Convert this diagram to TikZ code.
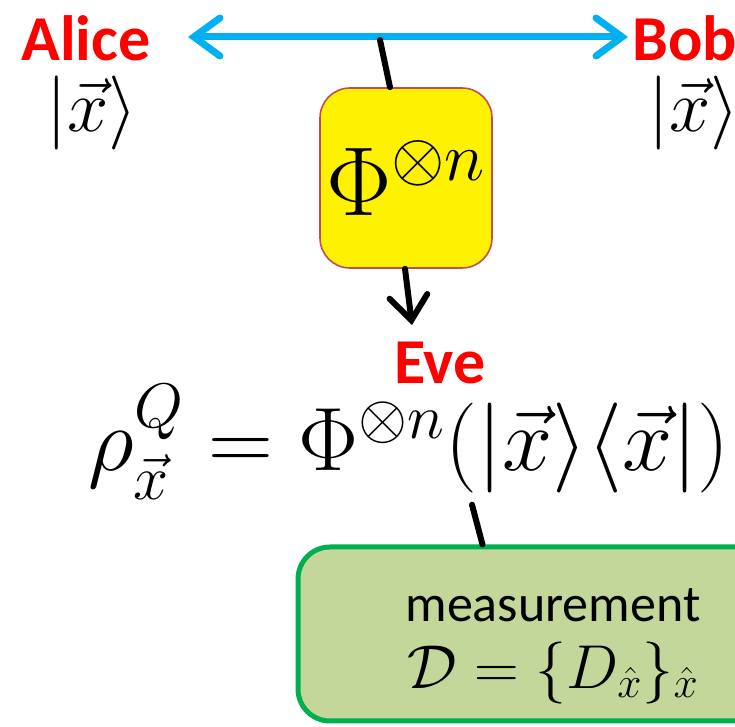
\RequirePackage{fix-cm}
\documentclass[tikz,border=0pt]{standalone}
\usepackage{amsmath,amssymb}
\usepackage{fontspec}
\newfontfamily\calib{Carlito}
\usetikzlibrary{arrows.meta,positioning,calc}
\usepackage{xcolor}
\definecolor{linkcol}{RGB}{0,176,240}
\definecolor{chanedge}{RGB}{192,80,77}
\definecolor{measedge}{RGB}{0,176,80}
\definecolor{measfill}{RGB}{196,215,155}

\begin{document}
\begin{tikzpicture}[x=0.5pt,y=-0.5pt,
  party/.style={text=red,font=\calib\bfseries\fontsize{32}{32}\selectfont,inner sep=0pt},
  ket/.style={font=\fontsize{37}{37}\selectfont,inner sep=0pt},
  bigmath/.style={font=\fontsize{45}{45}\selectfont,inner sep=0pt},
  wire/.style={line width=3pt,line cap=round},
  chanbox/.style={draw=chanedge,fill=yellow,line width=0.8pt,rounded corners=15pt,
    minimum width=86pt,minimum height=90pt,inner sep=0pt,font=\fontsize{49}{49}\selectfont},
  measbox/.style={draw=measedge,fill=measfill,line width=2.5pt,rounded corners=16pt,
    minimum width=251pt,minimum height=87pt,inner sep=0pt}]
  \useasboundingbox (0,0) rectangle (735,727);
  \clip (0,0) rectangle (735,727);
  \node[party] (alice) at (86,38){Alice};
  \node[party,anchor=west] (bob) at (632,38){Bob};
  \node[ket] (ketA) at (92,113){$|\vec{x}\rangle$};
  \node[ket] (ketB) at (694,113){$|\vec{x}\rangle$};
  \node[chanbox] (chan) at (406,178){$\Phi^{\otimes n}$};
  \node[party] (eve) at (440,363){Eve};
  \node[bigmath] (state) at (409,442)
    {$\rho^{Q}_{\vec{x}}=\Phi^{\otimes n}(|\vec{x}\rangle\langle\vec{x}|)$};
  \node[measbox] (meas) at (549,634){};
  \node[align=center,inner sep=0pt] (measlbl) at ($(meas.center)+(4,12)$)
    {{\calib\fontsize{26}{26}\selectfont measurement}\\[9pt]
     {\fontsize{31}{31}\selectfont$\mathcal{D}=\{D_{\hat{x}}\}_{\hat{x}}$}};
  % classical link and Eve's taps
  \coordinate (linkL) at (188,37);
  \coordinate (linkR) at (628,37);
  \coordinate (tap) at (380,40);
  \coordinate (evein) at (412,325);
  \draw[linkcol,line width=3.5pt,line cap=round,
    {Straight Barb[length=13pt,width=19pt,line cap=round]}-{Straight Barb[length=13pt,width=19pt,line cap=round]}]
    (linkL) -- (linkR);
  \draw[wire] (tap) -- ($(chan.north)+(-16,0)$);
  \draw[wire,-{Straight Barb[length=12pt,width=19pt,line cap=round]}]
    ($(chan.south)+(-1,0)$) -- (evein);
  \draw[wire] ($(state.south)+(63,5)$) -- ($(meas.north west)+(187,0)$);
\end{tikzpicture}
\end{document}
